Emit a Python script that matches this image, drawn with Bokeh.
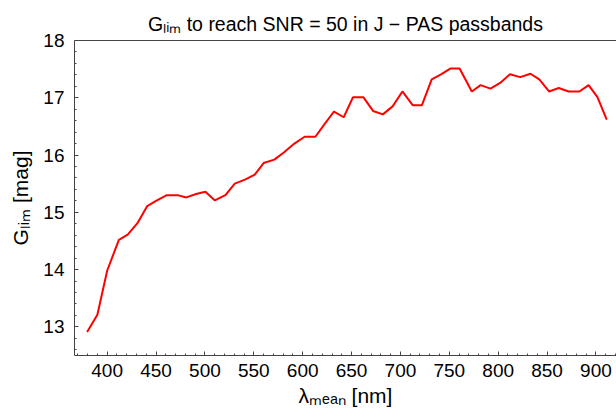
from bokeh.plotting import figure
from bokeh.models import Range1d, LinearAxis, FixedTicker
from bokeh.embed import file_html
from bokeh.resources import INLINE

# Mean wavelength of each J-PAS passband [nm]
wavelength = [379.5, 390, 400, 412, 421, 431, 441, 450, 461, 472, 481, 491, 500.5, 510,
              521, 530.5, 541, 551, 560, 571, 581, 591.5, 602, 613, 622, 632, 642, 651.5,
              662, 672, 682, 692, 702, 712.5, 722, 732, 741.5, 751, 760.5, 773, 782, 792,
              802, 812, 822.5, 833, 842, 852, 862, 872, 883, 892.5, 901.5, 911]
# Limiting G magnitude to reach SNR = 50
g_lim = [12.91, 13.21, 13.98, 14.52, 14.61, 14.81, 15.11, 15.20, 15.30, 15.30, 15.26, 15.32,
         15.36, 15.21, 15.30, 15.50, 15.57, 15.66, 15.86, 15.92, 16.05, 16.20, 16.32, 16.32,
         16.53, 16.76, 16.66, 17.01, 17.01, 16.77, 16.71, 16.85, 17.11, 16.87, 16.87, 17.32,
         17.41, 17.51, 17.51, 17.11, 17.22, 17.16, 17.26, 17.41, 17.36, 17.42, 17.32, 17.11,
         17.17, 17.11, 17.11, 17.22, 17.01, 16.62]

x_major = [400, 450, 500, 550, 600, 650, 700, 750, 800, 850, 900]
y_major = [13, 14, 15, 16, 17, 18]

FONT = "Liberation Sans"
SPINE = "#444444"

p = figure(width=616, height=419, output_backend="svg", toolbar_location=None,
           x_range=Range1d(366.6, 921), y_range=Range1d(12.5, 18.0),
           min_border_left=74, min_border_right=0, min_border_top=40, min_border_bottom=64,
           outline_line_color=None, title="Gₗᵢₘ to reach SNR = 50 in J − PAS passbands")

p.title.align = "center"
p.title.text_font = FONT
p.title.text_font_size = "19.5px"
p.title.text_font_style = "normal"
p.title.text_color = "black"
p.title.standoff = 12

p.xgrid.visible = False
p.ygrid.visible = False

p.line(wavelength, g_lim, line_color="#ff0000", line_width=2)

xa = p.xaxis[0]
xa.ticker = FixedTicker(ticks=x_major, minor_ticks=list(range(370, 921, 10)))
ya = p.yaxis[0]
ya.ticker = FixedTicker(ticks=y_major, minor_ticks=[round(12.6 + 0.2 * i, 1) for i in range(27)])

for ax in (xa, ya):
    ax.major_tick_in = 4
    ax.major_tick_out = 0
    ax.minor_tick_in = 2
    ax.minor_tick_out = 0
    ax.axis_line_color = SPINE
    ax.major_tick_line_color = SPINE
    ax.minor_tick_line_color = SPINE
    ax.major_label_text_font = FONT
    ax.major_label_text_font_size = "19px"
    ax.major_label_text_color = "black"
    ax.axis_label_text_font = FONT
    ax.axis_label_text_font_size = "21px"
    ax.axis_label_text_font_style = "normal"
    ax.axis_label_text_color = "black"

xa.axis_label = "λₘₑₐₙ [nm]"
ya.axis_label = "Gₗᵢₘ [mag]"
xa.major_label_standoff = 8
ya.major_label_standoff = 10
xa.axis_label_standoff = 4
ya.axis_label_standoff = 8

top = LinearAxis(ticker=FixedTicker(ticks=[]), axis_line_color=SPINE,
                 major_tick_in=0, major_tick_out=0, minor_tick_in=0, minor_tick_out=0)
p.add_layout(top, "above")

open("out.html", "w").write(file_html(p, INLINE))
